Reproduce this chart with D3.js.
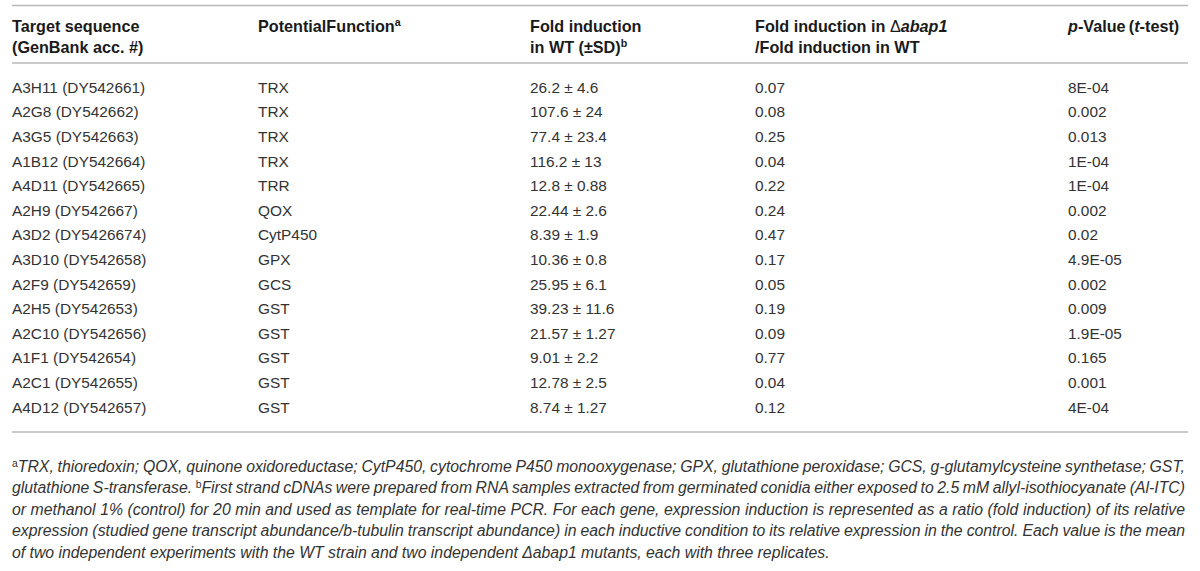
<!DOCTYPE html>
<html>
<head>
<meta charset="utf-8">
<script src="https://cdn.jsdelivr.net/npm/d3@7"></script>
<style>
  html, body { margin: 0; padding: 0; background: #fff; }
  svg { display: block; font-family: "Liberation Sans", Arial, Helvetica, sans-serif; }
</style>
</head>
<body>
<svg id="chart" width="1200" height="571"></svg>
<script>
// ---------- data ----------
const targets = [
  "A3H11 (DY542661)", "A2G8 (DY542662)", "A3G5 (DY542663)", "A1B12 (DY542664)",
  "A4D11 (DY542665)", "A2H9 (DY542667)", "A3D2 (DY5426674)", "A3D10 (DY542658)",
  "A2F9 (DY542659)", "A2H5 (DY542653)", "A2C10 (DY542656)", "A1F1 (DY542654)",
  "A2C1 (DY542655)", "A4D12 (DY542657)"
];
const functions = ["TRX", "TRX", "TRX", "TRX", "TRR", "QOX", "CytP450", "GPX", "GCS", "GST", "GST", "GST", "GST", "GST"];
const foldMean = ["26.2", "107.6", "77.4", "116.2", "12.8", "22.44", "8.39", "10.36", "25.95", "39.23", "21.57", "9.01", "12.78", "8.74"];
const foldSD   = ["4.6", "24", "23.4", "13", "0.88", "2.6", "1.9", "0.8", "6.1", "11.6", "1.27", "2.2", "2.5", "1.27"];
const ratios   = ["0.07", "0.08", "0.25", "0.04", "0.22", "0.24", "0.47", "0.17", "0.05", "0.19", "0.09", "0.77", "0.04", "0.12"];
const pValues  = ["8E-04", "0.002", "0.013", "1E-04", "1E-04", "0.002", "0.02", "4.9E-05", "0.002", "0.009", "1.9E-05", "0.165", "0.001", "4E-04"];

const columnKeys = ["target", "func", "fold", "ratio", "p"];

const footnoteLines = [
  [{t: "a", sup: true}, {t: "TRX, thioredoxin; QOX, quinone oxidoreductase; CytP450, cytochrome P450 monooxygenase; GPX, glutathione peroxidase; GCS, g-glutamylcysteine synthetase; GST,"}],
  [{t: "glutathione S-transferase. "}, {t: "b", sup: true}, {t: "First strand cDNAs were prepared from RNA samples extracted from germinated conidia either exposed to 2.5 mM allyl-isothiocyanate (Al-ITC)"}],
  [{t: "or methanol 1% (control) for 20 min and used as template for real-time PCR. For each gene, expression induction is represented as a ratio (fold induction) of its relative"}],
  [{t: "expression (studied gene transcript abundance/b-tubulin transcript abundance) in each inductive condition to its relative expression in the control. Each value is the mean"}],
  [{t: "of two independent experiments with the WT strain and two independent \u0394abap1 mutants, each with three replicates."}]
];

// ---------- layout ----------
const svg = d3.select("#chart");
const left = 12, right = 1188, textX = 12;

const rows = targets.map((t, i) => ({
  target: t,
  func: functions[i],
  fold: foldMean[i] + " \u00B1 " + foldSD[i],
  ratio: ratios[i],
  p: pValues[i]
}));

const x = d3.scaleOrdinal().domain(columnKeys).range([textX, 258, 530, 755, 1068]);
const y = d3.scaleBand().domain(d3.range(rows.length)).range([75, 75 + 24.6 * rows.length]).padding(0);

const lineColor = "#b8b8b8";
const hline = yy => svg.append("line").attr("x1", left).attr("x2", right)
  .attr("y1", yy).attr("y2", yy).attr("stroke", lineColor).attr("stroke-width", 1.3);

hline(5.5);
hline(63);
hline(432);

// ---------- header ----------
const head = svg.append("g").attr("font-weight", "bold").attr("font-size", 16.2).attr("fill", "#1a1a1a");
const H1 = 31.5, H2 = 52.5;

function addText(g, xx, yy, parts) {
  const t = g.append("text").attr("x", xx).attr("y", yy);
  parts.forEach((p, i) => {
    const s = t.append("tspan").text(p.t);
    if (p.sup) s.attr("font-size", "0.66em").attr("dy", "-0.5em");
    if (p.italic) s.attr("font-style", "italic");
    if (p.normal) s.attr("font-weight", "normal");
    if (i > 0 && parts[i - 1].sup) s.attr("dy", "0.33em");
  });
  return t;
}

addText(head, x("target"), H1, [{t: "Target sequence"}]);
addText(head, x("target"), H2, [{t: "(GenBank acc. #)"}]);
addText(head, x("func"), H1, [{t: "PotentialFunction"}, {t: "a", sup: true}]);
addText(head, x("fold"), H1, [{t: "Fold induction"}]);
addText(head, x("fold"), H2, [{t: "in WT (\u00B1SD)"}, {t: "b", sup: true}]);
addText(head, x("ratio"), H1, [{t: "Fold induction in "}, {t: "\u0394", normal: true}, {t: "abap1", italic: true}]);
addText(head, x("ratio"), H2, [{t: "/Fold induction in WT"}]);
addText(head, x("p"), H1, [{t: "p", italic: true}, {t: "-Value\u2009("}, {t: "t", italic: true}, {t: "-test)"}]);

// ---------- body ----------
const body = svg.append("g").attr("font-size", 15.4).attr("fill", "#333");
const rowG = body.selectAll("g.row").data(rows).join("g").attr("class", "row")
  .attr("transform", (d, i) => `translate(0,${y(i) + y.bandwidth() / 2 + 5.5})`);
columnKeys.forEach(k => {
  rowG.append("text").attr("x", x(k)).attr("y", 0).text(d => d[k]);
});

// ---------- footnote (justified) ----------
const foot = svg.append("g").attr("font-size", 15.8).attr("font-style", "italic").attr("fill", "#333");
const fy = d3.scaleLinear().domain([0, 1]).range([471.5, 493.1]);
footnoteLines.forEach((parts, li) => {
  const t = foot.append("text").attr("x", textX).attr("y", fy(li));
  parts.forEach((p, pi) => {
    const s = t.append("tspan").text(p.t);
    if (p.sup) s.attr("font-size", "0.66em").attr("dy", "-0.45em").attr("font-style", "normal");
    if (pi > 0 && parts[pi - 1].sup) s.attr("dy", "0.297em");
  });
  if (li < footnoteLines.length - 1) {
    const natural = t.node().getComputedTextLength();
    const full = parts.map(p => p.t).join("");
    const spaces = (full.match(/ /g) || []).length;
    const target = 1185 - textX;
    t.attr("word-spacing", (target - natural) / spaces);
  }
});
</script>
</body>
</html>
